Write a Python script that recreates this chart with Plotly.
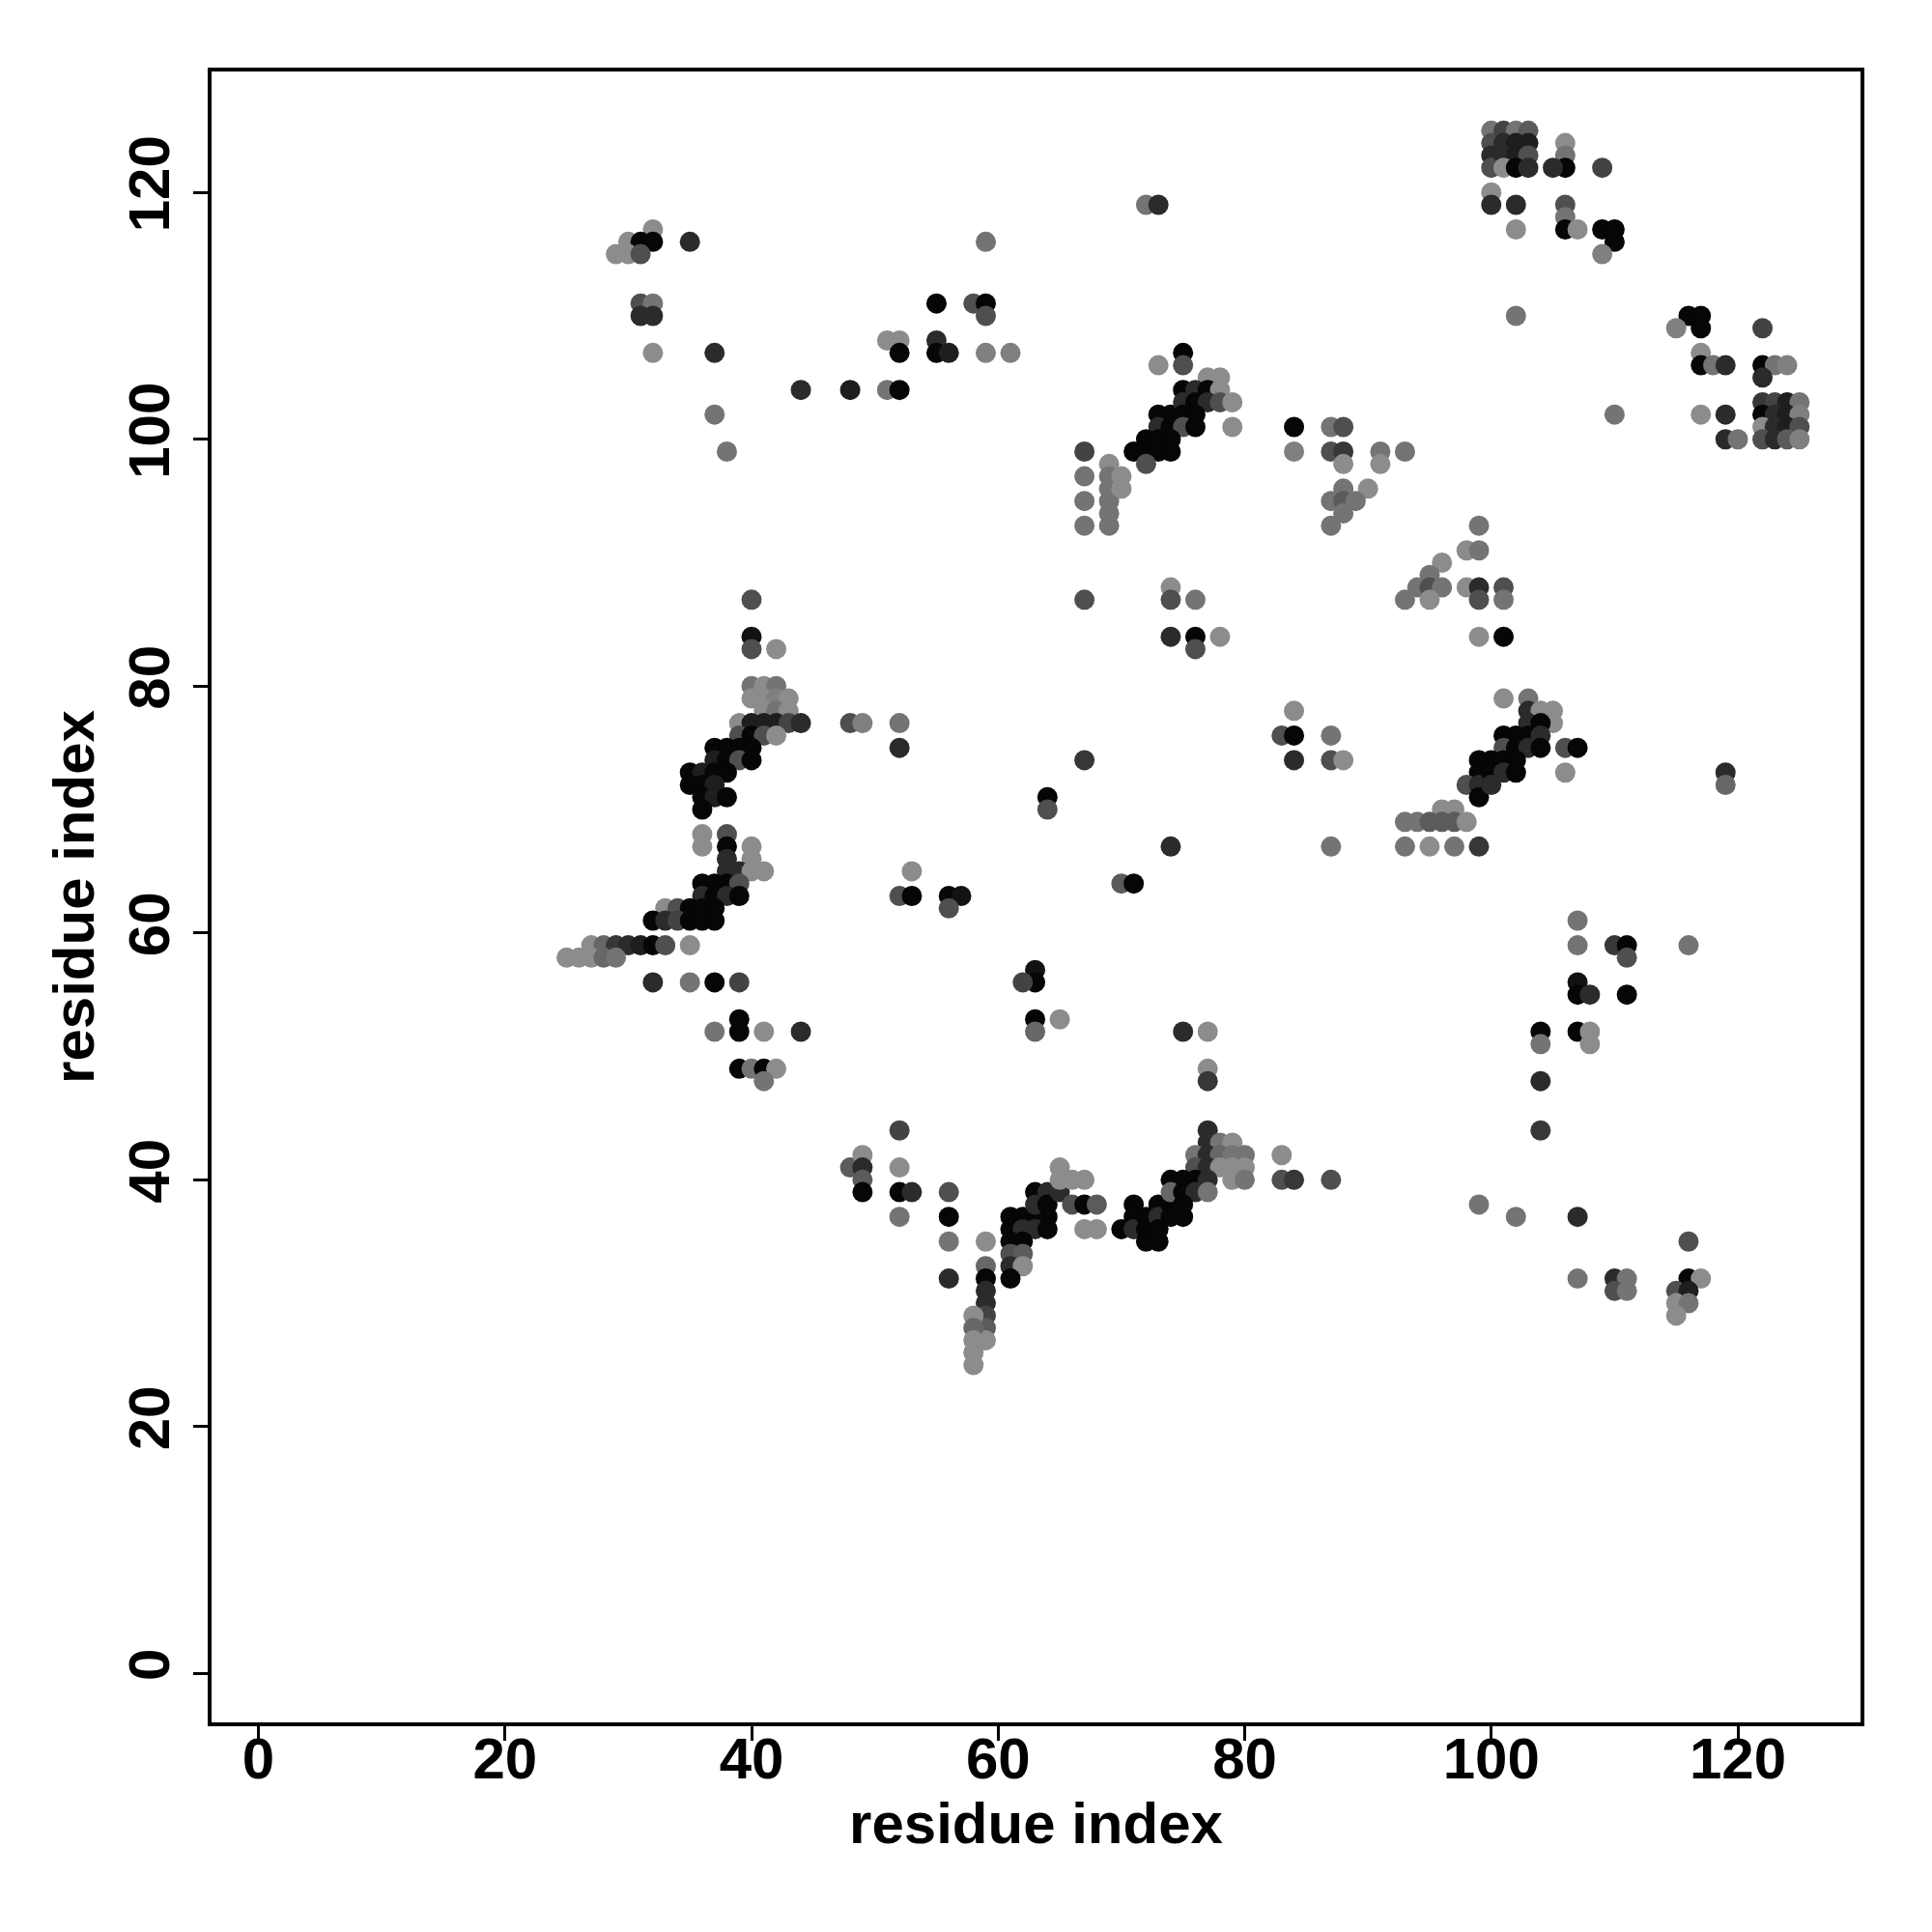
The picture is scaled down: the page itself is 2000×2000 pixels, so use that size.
import plotly.graph_objects as go

# contact map: residue i (x), residue j (y), predicted contact probability (shade)
res_i = [
    32, 30, 31, 32, 35, 29, 30, 31, 31, 32, 31, 32, 32, 37, 44, 48, 37, 38,
    72, 73, 59, 55, 58, 59, 59, 51, 52, 52, 55, 55, 56, 59, 61, 51, 52, 73,
    73, 74, 73, 72, 73, 71, 72, 73, 74, 72,
    67, 67, 67, 67, 69, 69, 69, 69, 69, 69, 70, 70,
    75, 75, 77, 78, 75, 76, 77, 78, 75, 76, 77, 78, 79, 75, 76, 74, 75, 76, 79, 74,
    84, 84, 87, 88, 87, 88, 88, 91, 91, 93, 88, 90, 87, 88, 89, 88, 87, 99,
    100, 100, 100, 100, 100, 100, 101, 102, 103, 101, 102, 103, 101, 102, 103, 101, 102, 103,
    106, 106, 106, 105, 109, 102, 106, 106, 106, 107, 102, 109, 110, 110, 109, 102,
    116, 117, 117, 115, 122, 117, 117, 118, 119, 122, 123, 124, 122,
    110, 117, 119, 119, 120,
    122, 123, 124, 125, 122, 123, 124, 125, 122, 123, 124, 125, 122, 123, 124, 125,
    40, 40, 40, 42,
    40, 41, 42, 40, 41, 42, 43, 41, 42, 43,
    39, 40, 41, 42, 43, 44, 39, 40, 41, 42,
    37, 38, 39, 40, 37, 38, 39, 40, 35, 36, 37, 38, 35, 36, 37, 36, 37, 38, 36,
    48, 49, 36, 38, 36, 38, 40, 38, 40, 38, 39, 40, 41,
    36, 37, 38, 39, 36, 37, 38, 39, 33, 34, 35, 36, 37, 32, 33, 34, 35, 36, 37,
    67, 74, 74, 74, 52, 52, 67, 64, 64, 74, 53, 52, 53, 56, 57, 56, 70, 71,
    98, 99, 96, 95, 94, 95, 96, 93, 95, 98, 99, 99, 99, 76, 76, 78, 76, 84, 83, 84, 87, 84, 87, 88, 87,
    99, 99, 98, 99, 99, 96, 97,
    93, 94, 95, 96, 97, 98, 93, 95, 97, 99,
    101, 101, 101, 101, 103, 103, 104, 105, 105, 103, 104, 101, 102, 103, 104,
    101, 102, 103, 104, 106, 107, 106, 100, 101, 102, 100, 101, 102, 100, 119, 119, 107,
    27, 28, 29, 30, 31, 32, 33, 35, 25, 26, 27, 28, 29,
    32, 35, 37, 39, 39, 39, 37, 41, 44, 39, 40, 41, 42, 41,
    48, 49, 49, 49, 49,
    63, 63, 62, 63, 63, 65, 52, 52, 52, 53, 52, 56, 56, 56, 56,
    59, 59, 59, 59, 59, 59, 59, 59, 58, 58, 58, 58, 58,
    61, 62, 63, 64, 63, 63, 64, 64, 65, 65, 65, 66, 67, 66, 67, 68, 67, 68,
    61, 62, 63, 64, 61, 62, 61, 62, 61, 62, 61,
    70, 71, 71, 71, 72, 72, 72, 73, 73, 73, 73, 74, 74,
    75, 77, 77, 77, 77, 77, 78, 79,
    76, 77, 78, 79, 80, 76, 77, 78, 79, 80,
    74, 75, 76, 77, 79, 80, 74, 75, 76, 77, 75, 75,
    83, 83, 84, 87, 99,
    107, 110, 111, 116, 111, 107, 107, 108, 111,
    104, 104, 107, 108, 108, 104, 104, 102, 107, 116,
    107, 110, 111, 110, 111, 116, 117, 115, 116, 115, 116, 115,
]
res_j = [
    117, 116, 116, 116, 116, 115, 115, 115, 111, 111, 110, 110, 107, 107, 104, 104, 102, 99,
    119, 119, 116, 111, 111, 111, 110, 108, 108, 107, 108, 107, 107, 107, 107, 104, 104, 106,
    102, 102, 101, 100, 100, 99, 99, 99, 99, 98,
    99, 97, 95, 93, 98, 97, 96, 95, 94, 93, 97, 96,
    107, 106, 105, 105, 104, 104, 104, 104, 103, 103, 103, 103, 103, 102, 102, 101, 101, 101, 101, 100,
    101, 99, 101, 101, 99, 99, 98, 99, 98, 99, 96, 96, 95, 95, 95, 94, 93, 93,
    125, 124, 123, 122, 120, 119, 125, 125, 125, 124, 124, 124, 123, 123, 123, 122, 122, 122,
    124, 123, 122, 122, 122, 119, 119, 118, 117, 117, 117, 117, 117, 116, 115, 110,
    110, 110, 109, 109, 109, 107, 106, 106, 106, 106, 106, 106, 105,
    102, 102, 102, 100, 100,
    103, 103, 103, 103, 102, 102, 102, 102, 101, 101, 101, 101, 100, 100, 100, 100,
    87, 84, 83, 83,
    80, 80, 80, 79, 79, 79, 79, 78, 78, 78,
    77, 77, 77, 77, 77, 77, 76, 76, 76, 76,
    75, 75, 75, 75, 74, 74, 74, 74, 73, 73, 73, 73, 72, 72, 72, 71, 71, 71, 70,
    77, 77, 68, 68, 67, 67, 67, 66, 66, 65, 65, 65, 65,
    64, 64, 64, 64, 63, 63, 63, 63, 62, 62, 62, 62, 62, 61, 61, 61, 61, 61, 61,
    87, 88, 87, 84, 77, 75, 74, 71, 70, 67, 65, 63, 63, 63, 63, 62, 64, 64,
    91, 91, 90, 89, 88, 88, 88, 87, 87, 88, 88, 87, 84, 87, 84, 84, 83, 78, 76, 76, 76, 74, 74, 74, 67,
    74, 73, 72, 72, 71, 70, 70,
    69, 69, 69, 69, 69, 69, 67, 67, 67, 67,
    88, 87, 84, 79, 79, 78, 78, 78, 77, 77, 77, 76, 76, 76, 76,
    75, 75, 75, 75, 75, 75, 73, 74, 74, 74, 73, 73, 73, 72, 73, 72, 61,
    59, 59, 59, 59, 59, 59, 59, 59, 58, 58, 58, 58, 58,
    56, 56, 56, 56, 53, 52, 52, 52, 52, 49, 49, 49, 49, 48,
    41, 42, 41, 40, 39,
    57, 56, 56, 53, 52, 53, 44, 41, 39, 39, 37, 39, 37, 35, 32,
    35, 33, 32, 31, 30, 29, 28, 27, 29, 28, 27, 26, 25,
    37, 37, 37, 37, 39, 38, 39, 38, 39, 41, 40, 40, 40, 38, 38, 38, 36, 36,
    36, 36, 36, 36, 35, 35, 34, 34, 33, 33, 32,
    36, 38, 37, 36, 37, 36, 35, 38, 37, 36, 35, 38, 37,
    52, 52, 49, 48, 44, 43, 43, 43,
    42, 42, 42, 42, 42, 41, 41, 41, 41, 41,
    40, 40, 40, 40, 40, 40, 39, 39, 39, 39, 38, 37,
    42, 40, 40, 40, 38,
    59, 59, 59, 59, 58, 56, 55, 55, 55,
    52, 51, 52, 52, 51, 48, 44, 37, 37, 35,
    32, 32, 32, 31, 31, 32, 32, 31, 31, 30, 30, 29,
]
prob = [
    .40, .40, .95, .95, .80, .40, .40, .65, .65, .50, .80, .80, .40, .80, .80, .85, .50, .50,
    .50, .80, .50, .95, .65, .95, .65, .40, .40, .95, .80, .95, .85, .45, .45, .50, .95, .40,
    .95, .95, .80, .95, .95, .95, .95, .95, .95, .65,
    .70, .50, .50, .50, .40, .50, .50, .50, .50, .50, .40, .40,
    .95, .65, .40, .40, .95, .80, .95, .40, .80, .95, .80, .65, .40, .95, .95, .95, .65, .95, .40, .95,
    .95, .45, .50, .65, .65, .75, .40, .50, .40, .50, .50, .40, .50, .60, .50, .50, .50, .50,
    .50, .65, .80, .65, .40, .80, .70, .50, .60, .80, .85, .85, .80, .85, .65, .40, .95, .80,
    .40, .50, .95, .80, .70, .80, .65, .50, .95, .40, .40, .95, .95, .95, .45, .50,
    .95, .95, .95, .45, .70, .40, .95, .50, .80, .95, .50, .45, .80,
    .50, .40, .80, .80, .50,
    .75, .70, .85, .50, .95, .80, .85, .45, .40, .80, .85, .65, .65, .80, .60, .45,
    .65, .90, .65, .40,
    .50, .40, .50, .40, .40, .45, .40, .40, .50, .40,
    .40, .85, .85, .85, .70, .80, .65, .95, .65, .40,
    .95, .95, .95, .95, .85, .95, .65, .95, .95, .85, .95, .95, .95, .95, .85, .95, .85, .95, .95,
    .65, .45, .40, .65, .40, .95, .40, .80, .40, .80, .80, .40, .40,
    .95, .95, .95, .65, .80, .95, .80, .95, .40, .65, .95, .95, .95, .95, .80, .70, .95, .95, .95,
    .65, .40, .65, .80, .50, .80, .75, .95, .65, .80, .40, .65, .95, .95, .90, .65, .60, .95,
    .40, .50, .40, .50, .50, .65, .50, .50, .40, .40, .80, .65, .40, .50, .95, .40, .65, .40, .65, .95, .50, .80, .65, .40, .50,
    .95, .95, .65, .80, .95, .40, .40,
    .50, .50, .60, .60, .60, .40, .50, .40, .50, .75,
    .65, .50, .95, .40, .50, .80, .40, .40, .40, .80, .95, .95, .95, .95, .80,
    .65, .95, .80, .95, .65, .95, .40, .95, .95, .95, .95, .80, .95, .80, .80, .55, .50,
    .40, .55, .75, .80, .85, .95, .65, .40, .40, .40, .40, .55, .50,
    .80, .50, .95, .70, .95, .95, .50, .40, .80, .95, .50, .95, .40, .50,
    .60, .40, .80, .60, .95,
    .90, .95, .70, .95, .55, .40, .70, .40, .95, .80, .50, .65, .95, .50, .80,
    .40, .55, .95, .80, .80, .70, .60, .40, .40, .55, .40, .40, .40,
    .95, .95, .95, .95, .95, .80, .80, .95, .80, .40, .40, .40, .40, .65, .95, .60, .40, .40,
    .95, .80, .80, .95, .95, .95, .65, .60, .80, .40, .95,
    .95, .95, .95, .80, .95, .95, .95, .95, .80, .95, .95, .95, .95,
    .80, .40, .40, .75, .80, .80, .50, .40,
    .50, .80, .55, .50, .50, .65, .80, .40, .40, .40,
    .95, .95, .95, .80, .40, .50, .55, .95, .80, .50, .95, .95,
    .40, .65, .75, .65, .50,
    .50, .75, .95, .50, .65, .90, .95, .80, .95,
    .95, .50, .95, .40, .40, .80, .75, .50, .80, .65,
    .50, .80, .50, .65, .50, .95, .40, .65, .85, .40, .50, .40,
]

x_ticks = [0, 20, 40, 60, 80, 100, 120]
y_ticks = [0, 20, 40, 60, 80, 100, 120]
axis_title = "residue index"

fig = go.Figure(go.Scatter(
    x=res_i, y=res_j, mode="markers",
    marker=dict(size=21, color=prob, cmin=0.4, cmax=0.95,
                colorscale=[[0, "rgb(140,140,140)"], [1, "rgb(6,6,6)"]],
                line=dict(width=0)),
    showlegend=False, hoverinfo="x+y",
))

font_family = "Liberation Sans, Arial, Helvetica, sans-serif"
tick_font = dict(family=font_family, size=60, color="black", weight="bold")
title_font = dict(family=font_family, size=60, color="black", weight="bold")
axis_common = dict(
    tickmode="array", ticks="outside", ticklen=15, tickwidth=3, tickcolor="black",
    showline=True, linewidth=4, linecolor="black", mirror=True,
    showgrid=False, zeroline=False, tickfont=tick_font,
)
fig.update_layout(
    width=2000, height=2000,
    margin=dict(l=211, r=82, t=66, b=225),
    paper_bgcolor="white", plot_bgcolor="white",
    xaxis=dict(range=[-3.8, 129.95], tickvals=x_ticks, ticktext=[str(v) for v in x_ticks],
               ticklabelstandoff=-33,
               title=dict(text=axis_title, standoff=9, font=title_font),
               **axis_common),
    yaxis=dict(range=[-3.96, 129.8], tickvals=y_ticks, ticktext=[str(v) for v in y_ticks],
               tickangle=-90, ticklabelstandoff=1,
               title=dict(text=axis_title, standoff=5, font=title_font),
               **axis_common),
)
fig.write_html("out.html")
